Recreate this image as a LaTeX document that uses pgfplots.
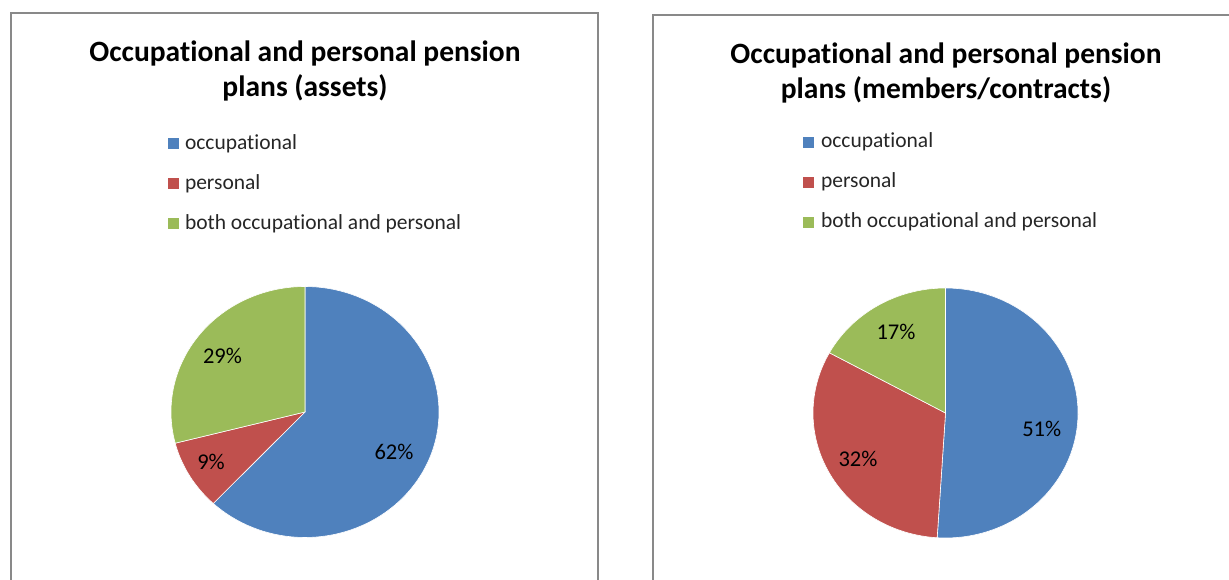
\documentclass[border=0pt]{standalone}
\usepackage{pgfplots}
\pgfplotsset{compat=1.18}
\usepackage{fontspec}
\setmainfont{Carlito}[RawFeature={-liga}]
\definecolor{occ}{HTML}{4F81BD}
\definecolor{pers}{HTML}{C0504D}
\definecolor{both}{HTML}{9BBB59}
\definecolor{frame}{HTML}{898989}
\newcommand{\titlefont}{\bfseries\fontsize{29.5}{35}\selectfont}
\newcommand{\legfont}{\fontsize{21.5}{21.5}\selectfont}
\newcommand{\labfont}{\fontsize{22.5}{22.5}\selectfont}
% pie shares (percent)
\def\LocC{62}\def\LpeR{9}\def\LboT{29}
\def\RocC{51}\def\RpeR{32}\def\RboT{17}
\pgfmathsetmacro{\La}{90}
\pgfmathsetmacro{\Lb}{\La-3.6*\LocC}
\pgfmathsetmacro{\Lc}{\Lb-3.6*\LpeR}
\pgfmathsetmacro{\Ld}{\Lc-3.6*\LboT}
\pgfmathsetmacro{\Ra}{90}
\pgfmathsetmacro{\Rb}{\Ra-3.6*\RocC}
\pgfmathsetmacro{\Rc}{\Rb-3.6*\RpeR}
\pgfmathsetmacro{\Rd}{\Rc-3.6*\RboT}
\pgfplotsset{
  pieaxis/.style={
    at={(0pt,0pt)}, anchor=south west,
    width=1229pt, height=580pt, scale only axis,
    xmin=0, xmax=1229, ymin=0, ymax=580,
    hide axis, clip=false,
    legend cell align=left,
  },
  slice/.style={draw=white, line width=0.6pt, samples=90},
}
\begin{document}
\begin{tikzpicture}
\useasboundingbox (0pt,0pt) rectangle (1229pt,580pt);
% ---------------- left chart ----------------
\begin{axis}[pieaxis,
  legend image code/.code={\fill[#1, draw=none] (0pt,-5.5pt) rectangle (11pt,5.5pt);},
  legend style={at={(axis cs:168,441.5)}, anchor=north west, draw=none, fill=none,
    inner sep=0pt, outer sep=0pt, row sep=29pt, column sep=6pt,
    font=\legfont, text=black!85, nodes={inner sep=0pt, text height=11pt, text depth=0pt}}]
\draw[frame, line width=2pt] (axis cs:11,0) -- (axis cs:11,567) -- (axis cs:598,567) -- (axis cs:598,0);
\node[font=\titlefont, anchor=base] at (axis cs:305,518.5) {Occupational and personal pension};
\node[font=\titlefont, anchor=base] at (axis cs:305,483.5) {plans (assets)};
\addplot[slice, fill=occ, domain=\Lb:\La] ({305+134*cos(x)},{168+125.5*sin(x)}) -- (axis cs:305,168) -- cycle;
\addlegendentry{occupational}
\addplot[slice, fill=pers, domain=\Lc:\Lb] ({305+134*cos(x)},{168+125.5*sin(x)}) -- (axis cs:305,168) -- cycle;
\addlegendentry{personal}
\addplot[slice, fill=both, domain=\Ld:\Lc] ({305+134*cos(x)},{168+125.5*sin(x)}) -- (axis cs:305,168) -- cycle;
\addlegendentry{both occupational and personal}
\node[font=\labfont] at (axis cs:394,128) {62\%};
\node[font=\labfont] at (axis cs:211,118.5) {9\%};
\node[font=\labfont] at (axis cs:222.5,224) {29\%};
\end{axis}
% ---------------- right chart ----------------
\begin{axis}[pieaxis,
  legend image code/.code={\fill[#1, draw=none] (0pt,-5.5pt) rectangle (11pt,5.5pt);},
  legend style={at={(axis cs:803,443)}, anchor=north west, draw=none, fill=none,
    inner sep=0pt, outer sep=0pt, row sep=29pt, column sep=7pt,
    font=\legfont, text=black!85, nodes={inner sep=0pt, text height=11pt, text depth=0pt}}]
\draw[frame, line width=2pt] (axis cs:653,0) -- (axis cs:653,564.5) -- (axis cs:1229,564.5);
\node[font=\titlefont, anchor=base] at (axis cs:946,516.5) {Occupational and personal pension};
\node[font=\titlefont, anchor=base] at (axis cs:946,481) {plans (members/contracts)};
\addplot[slice, fill=occ, domain=\Rb:\Ra] ({945.5+132.5*cos(x)},{167+125*sin(x)}) -- (axis cs:945.5,167) -- cycle;
\addlegendentry{occupational}
\addplot[slice, fill=pers, domain=\Rc:\Rb] ({945.5+132.5*cos(x)},{167+125*sin(x)}) -- (axis cs:945.5,167) -- cycle;
\addlegendentry{personal}
\addplot[slice, fill=both, domain=\Rd:\Rc] ({945.5+132.5*cos(x)},{167+125*sin(x)}) -- (axis cs:945.5,167) -- cycle;
\addlegendentry{both occupational and personal}
\node[font=\labfont] at (axis cs:1041.7,151.3) {51\%};
\node[font=\labfont] at (axis cs:858,121) {32\%};
\node[font=\labfont] at (axis cs:896,248.5) {17\%};
\end{axis}
\end{tikzpicture}
\end{document}
